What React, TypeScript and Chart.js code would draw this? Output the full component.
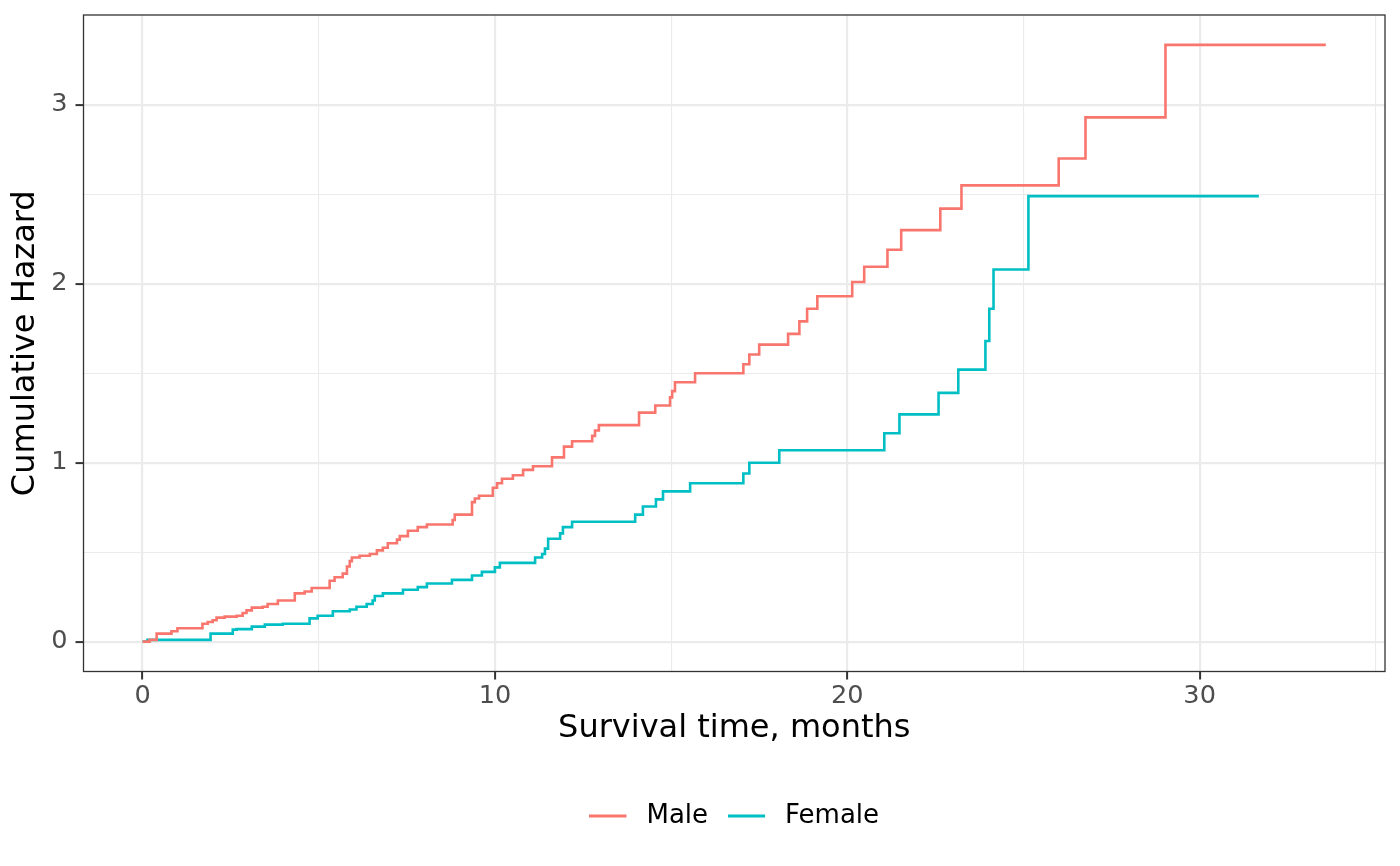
import { useEffect, useRef } from "react";
import { Chart, registerables } from "chart.js";

Chart.register(...registerables);

// cumulative hazard step data (time in months)
const maleTimes = [
  0, 0.2, 0.4, 0.82, 0.99, 1.7, 1.85, 1.99, 2.1, 2.33, 2.67, 2.84, 2.95, 3.1, 3.41, 3.55, 3.84, 4.32, 4.6, 4.8,
  5.31, 5.45, 5.68, 5.8, 5.88, 5.94, 6.16, 6.45, 6.65, 6.82, 6.96, 7.22, 7.3, 7.53, 7.81, 8.07, 8.8, 8.86, 9.35,
  9.43, 9.55, 9.94, 10.06, 10.2, 10.51, 10.8, 11.08, 11.62, 11.96, 12.19, 12.76, 12.84, 12.95, 14.09, 14.55,
  14.97, 15.03, 15.11, 15.68, 17.05, 17.22, 17.5, 18.32, 18.64, 18.86, 19.15, 20.14, 20.48, 21.14, 21.53,
  22.64, 23.24, 26.0, 26.76, 29.03, 33.58,
];
const maleHazard = [
  0, 0.01, 0.045, 0.058, 0.075, 0.1, 0.11, 0.12, 0.134, 0.14, 0.145, 0.16, 0.175, 0.19, 0.195, 0.21, 0.23, 0.27,
  0.28, 0.3, 0.34, 0.36, 0.38, 0.42, 0.45, 0.47, 0.48, 0.49, 0.51, 0.525, 0.55, 0.57, 0.59, 0.62, 0.64, 0.655,
  0.68, 0.71, 0.78, 0.8, 0.815, 0.86, 0.885, 0.91, 0.93, 0.96, 0.98, 1.03, 1.09, 1.12, 1.15, 1.18, 1.21, 1.28,
  1.32, 1.365, 1.4, 1.45, 1.5, 1.55, 1.605, 1.66, 1.72, 1.79, 1.86, 1.93, 2.01, 2.095, 2.19, 2.3, 2.42, 2.55,
  2.7, 2.93, 3.335, 3.335,
];

const femaleTimes = [
  0, 0.14, 1.93, 2.56, 2.67, 3.1, 3.47, 3.98, 4.74, 4.97, 5.4, 5.88, 6.07, 6.36, 6.53, 6.59, 6.82, 7.39, 7.81,
  8.07, 8.78, 9.35, 9.63, 10.0, 10.14, 11.14, 11.34, 11.42, 11.51, 11.85, 11.93, 12.19, 13.98, 14.2, 14.57,
  14.77, 15.54, 17.05, 17.22, 18.07, 21.05, 21.48, 22.59, 23.15, 23.92, 24.03, 24.15, 25.14, 31.68,
];
const femaleHazard = [
  0, 0.01, 0.045, 0.067, 0.07, 0.084, 0.095, 0.1, 0.13, 0.145, 0.17, 0.18, 0.195, 0.21, 0.23, 0.255, 0.27, 0.29,
  0.305, 0.325, 0.345, 0.37, 0.39, 0.415, 0.44, 0.47, 0.49, 0.52, 0.575, 0.605, 0.64, 0.67, 0.71, 0.755, 0.795,
  0.84, 0.885, 0.94, 1.0, 1.07, 1.165, 1.27, 1.39, 1.52, 1.68, 1.86, 2.08, 2.49, 2.49,
];

const xMajor = [0, 10, 20, 30];
const xMinor = [5, 15, 25, 35];
const yMajor = [0, 1, 2, 3];
const yMinor = [0.5, 1.5, 2.5];

const FONT = "'DejaVu Sans', sans-serif";
const MALE = "#F8766D";
const FEMALE = "#00BFC4";

const toPoints = (xs: number[], ys: number[]) => xs.map((x, i) => ({ x, y: ys[i] }));

// legend key: short line on the left, blank space on the right as the gap before the text
const legendKey = (color: string) => {
  const c = document.createElement("canvas");
  c.width = 44;
  c.height = 4;
  const g = c.getContext("2d");
  if (g) {
    g.fillStyle = color;
    g.fillRect(0, 0.5, 37, 3);
  }
  return c;
};

// ggplot theme_bw style panel border, legend centred on the panel
const panelBorder = {
  id: "panelBorder",
  afterLayout(chart: any) {
    const lg = chart.legend;
    if (!lg) return;
    const shift = (chart.chartArea.left + chart.chartArea.right) / 2 - (lg.left + lg.right) / 2;
    lg.left += shift;
    lg.right += shift;
  },
  afterDraw(chart: any) {
    const { ctx, chartArea } = chart;
    ctx.save();
    ctx.strokeStyle = "#333333";
    ctx.lineWidth = 1.3;
    ctx.strokeRect(chartArea.left, chartArea.top, chartArea.right - chartArea.left, chartArea.bottom - chartArea.top);
    ctx.restore();
  },
};

const App = () => {
  const canvasRef = useRef<HTMLCanvasElement | null>(null);

  useEffect(() => {
    document.body.style.margin = "0";
    if (!canvasRef.current) return;

    const isMajorX = (v: number) => xMajor.includes(v);
    const isMajorY = (v: number) => yMajor.includes(v);
    const keys = [legendKey(MALE), legendKey(FEMALE)];

    const chart = new Chart(canvasRef.current, {
      type: "line",
      data: {
        datasets: [
          {
            label: "Male",
            data: toPoints(maleTimes, maleHazard),
            borderColor: MALE,
            backgroundColor: MALE,
            borderWidth: 2.6,
            pointRadius: 0,
            stepped: true,
          },
          {
            label: "Female",
            data: toPoints(femaleTimes, femaleHazard),
            borderColor: FEMALE,
            backgroundColor: FEMALE,
            borderWidth: 2.6,
            pointRadius: 0,
            stepped: true,
          },
        ],
      },
      options: {
        responsive: false,
        animation: false,
        layout: { padding: { left: 0, top: 15, right: 15, bottom: 27 } },
        plugins: {
          tooltip: { enabled: false },
          legend: {
            position: "bottom",
            labels: {
              usePointStyle: true,
              pointStyleWidth: 44,
              padding: 20,
              color: "#000000",
              font: { family: FONT, size: 26 },
              generateLabels: (c: any) =>
                c.data.datasets.map((d: any, i: number) => ({
                  text: d.label,
                  fillStyle: d.borderColor,
                  strokeStyle: d.borderColor,
                  lineWidth: 0,
                  pointStyle: keys[i],
                  fontColor: "#000000",
                  hidden: false,
                  datasetIndex: i,
                })),
            },
          },
        },
        scales: {
          x: {
            type: "linear",
            min: -1.676,
            max: 35.26,
            afterBuildTicks: (s: any) => {
              s.ticks = [...xMajor, ...xMinor].sort((a, b) => a - b).map((v) => ({ value: v }));
            },
            afterFit: (s: any) => {
              s.height = 111.5;
              s.paddingLeft = 0;
              s.paddingRight = 0;
            },
            border: { display: false },
            grid: {
              color: "#EBEBEB",
              lineWidth: (ctx: any) => (isMajorX(ctx.tick?.value) ? 2.2 : 1.1),
              tickColor: (ctx: any) => (isMajorX(ctx.tick?.value) ? "#333333" : "rgba(0,0,0,0)"),
              tickWidth: 2,
              tickLength: 8,
            },
            ticks: {
              autoSkip: false,
              maxRotation: 0,
              padding: 1,
              color: "#4D4D4D",
              font: { family: FONT, size: 25.6 },
              callback: (v: any) => (isMajorX(Number(v)) ? String(v) : ""),
            },
            title: {
              display: true,
              text: "Survival time, months",
              color: "#000000",
              font: { family: FONT, size: 32 },
              padding: { top: 0, bottom: 35 },
            },
          },
          y: {
            type: "linear",
            min: -0.1668,
            max: 3.502,
            afterBuildTicks: (s: any) => {
              s.ticks = [...yMajor, ...yMinor].sort((a, b) => a - b).map((v) => ({ value: v }));
            },
            afterFit: (s: any) => {
              s.width = 83.5;
              s.paddingTop = 0;
              s.paddingBottom = 0;
            },
            border: { display: false },
            grid: {
              color: "#EBEBEB",
              lineWidth: (ctx: any) => (isMajorY(ctx.tick?.value) ? 2.2 : 1.1),
              tickColor: (ctx: any) => (isMajorY(ctx.tick?.value) ? "#333333" : "rgba(0,0,0,0)"),
              tickWidth: 2,
              tickLength: 8,
            },
            ticks: {
              autoSkip: false,
              padding: 8,
              color: "#4D4D4D",
              font: { family: FONT, size: 25.6 },
              callback: (v: any) => (isMajorY(Number(v)) ? String(v) : ""),
            },
            title: {
              display: true,
              text: "Cumulative Hazard",
              color: "#000000",
              font: { family: FONT, size: 32 },
              padding: { top: 6, bottom: 0 },
            },
          },
        },
      },
      plugins: [panelBorder],
    });

    return () => {
      chart.destroy();
    };
  }, []);

  return (
    <div style={{ width: 1400, height: 866, background: "#ffffff" }}>
      <canvas ref={canvasRef} width={1400} height={866}></canvas>
    </div>
  );
};

export default App;
